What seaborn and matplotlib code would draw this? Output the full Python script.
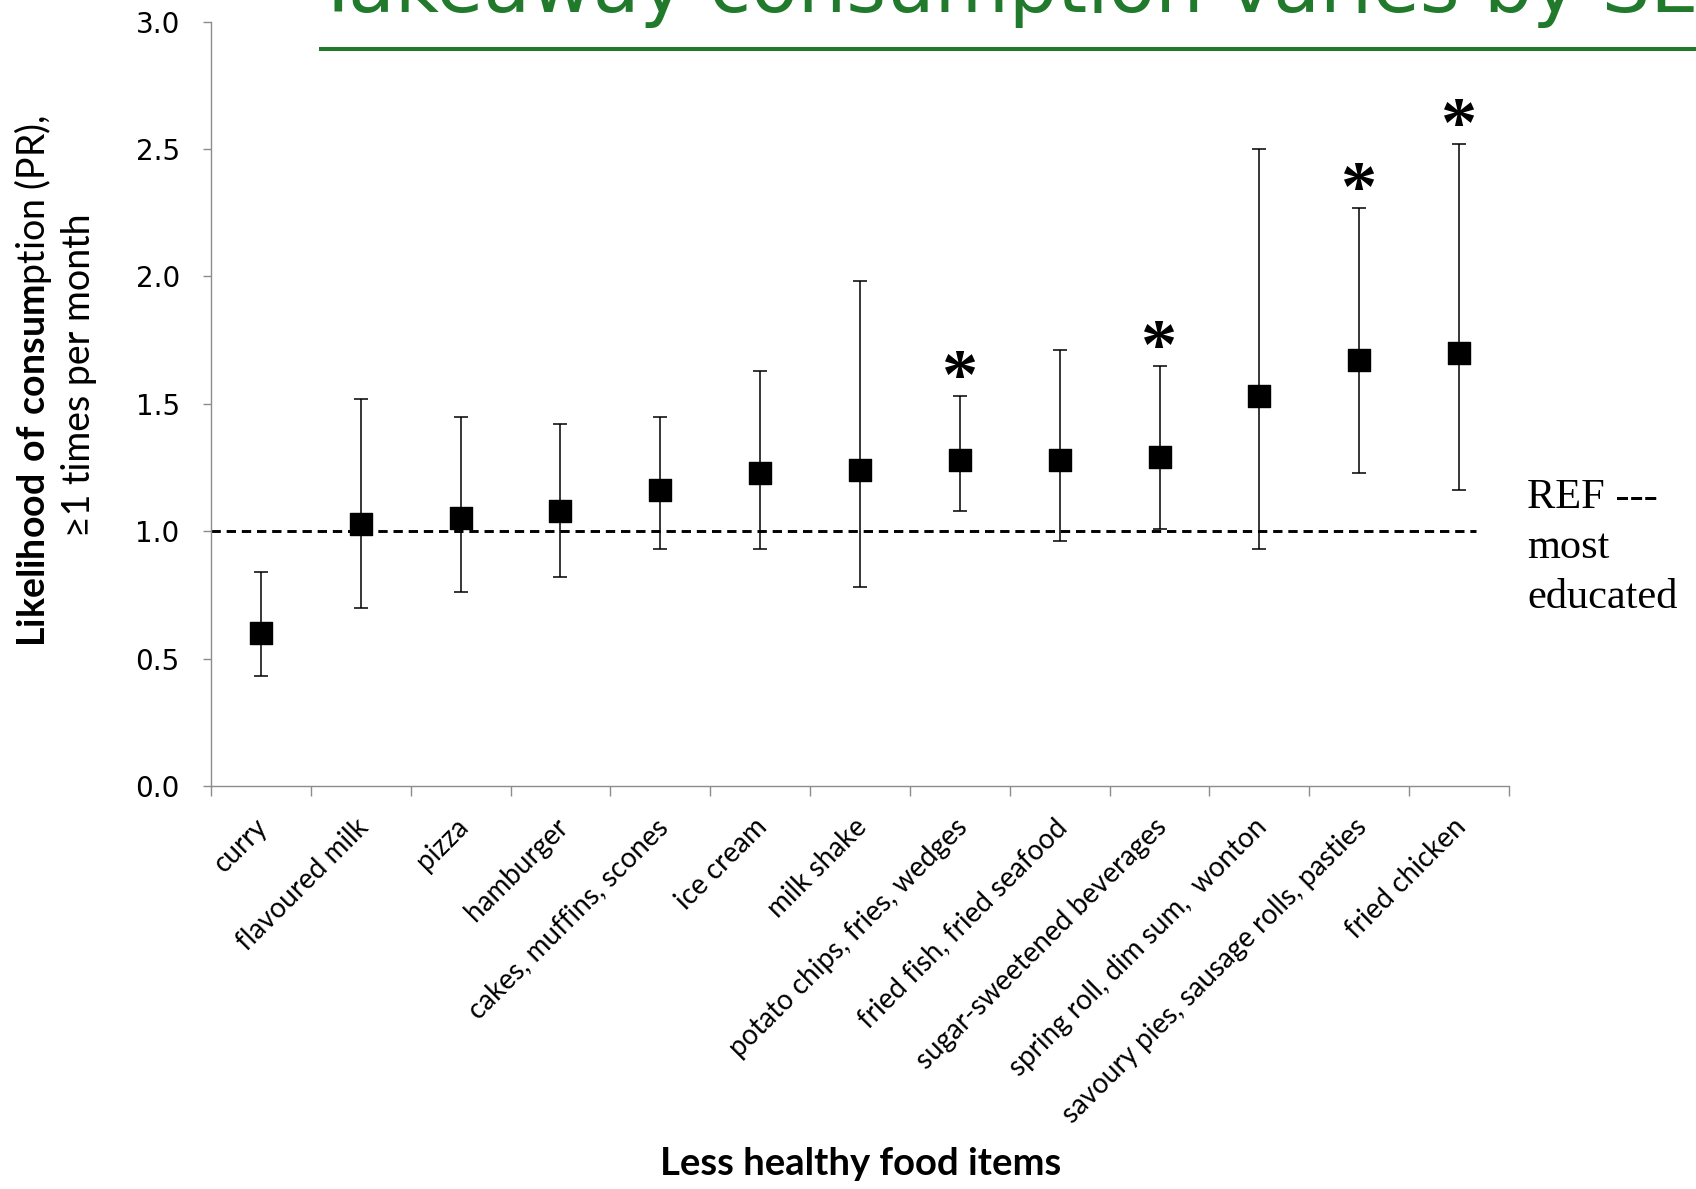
import numpy as np
import pandas as pd
import matplotlib
matplotlib.use("Agg")
import matplotlib.pyplot as plt
import seaborn as sns
from matplotlib.lines import Line2D
from matplotlib.transforms import ScaledTranslation

# Prevalence ratios (PR) of takeaway consumption, least vs most educated
items = [
    "curry", "flavoured milk", "pizza", "hamburger", "cakes, muffins, scones",
    "ice cream", "milk shake", "potato chips, fries, wedges",
    "fried fish, fried seafood", "sugar-sweetened beverages",
    "spring roll, dim sum,  wonton", "savoury pies, sausage rolls, pasties",
    "fried chicken",
]
pr = [0.60, 1.03, 1.05, 1.08, 1.16, 1.23, 1.24, 1.28, 1.28, 1.29, 1.53, 1.67, 1.70]
ci_low = [0.43, 0.70, 0.76, 0.82, 0.93, 0.93, 0.78, 1.08, 0.96, 1.01, 0.93, 1.23, 1.16]
ci_high = [0.84, 1.52, 1.45, 1.42, 1.45, 1.63, 1.98, 1.53, 1.71, 1.65, 2.50, 2.27, 2.52]
significant = [False, False, False, False, False, False, False,
               True, False, True, False, True, True]
y_ticks = [0.0, 0.5, 1.0, 1.5, 2.0, 2.5, 3.0]
REF_VALUE = 1.0

df = pd.DataFrame({"item": items, "pr": pr, "lo": ci_low, "hi": ci_high, "sig": significant})

sns.set_theme(style="ticks")
plt.rcParams["font.family"] = ["Lato", "DejaVu Sans"]
plt.rcParams["mathtext.fontset"] = "custom"
plt.rcParams["mathtext.rm"] = "Lato"
plt.rcParams["mathtext.bf"] = "Lato:bold"

W, H = 1696, 1189
fig = plt.figure(figsize=(W / 100, H / 100), dpi=100)
fig.patch.set_facecolor("white")

ax_left, ax_right, ax_top, ax_bottom = 211, 1509, 21.6, 786
ax = fig.add_axes([ax_left / W, 1 - ax_bottom / H,
                   (ax_right - ax_left) / W, (ax_bottom - ax_top) / H])
ax.set_facecolor("white")

xpos = np.arange(len(df))

# reference line (most educated group)
ax.plot([-0.5, 12.17], [REF_VALUE, REF_VALUE], color="black", lw=2.1,
        dashes=(3.2, 2.0), zorder=2)

# confidence intervals
ax.errorbar(xpos, df["pr"], yerr=[df["pr"] - df["lo"], df["hi"] - df["pr"]],
            fmt="none", ecolor="black", elinewidth=1.1, capsize=5, capthick=1.1,
            zorder=3)

# point estimates
sns.scatterplot(data=df, x="item", y="pr", marker="s", s=16 ** 2, color="black",
                edgecolor="black", linewidth=1, zorder=4, legend=False, ax=ax)

# significance markers
for i, row in df.iterrows():
    if row["sig"]:
        ax.annotate("*", xy=(i, row["hi"]), xytext=(0, 11), textcoords="offset points",
                    ha="center", va="center", fontsize=52, fontweight="bold",
                    family="Liberation Serif", color="black", zorder=5)

ax.set_xlim(-0.5, len(df) - 0.5)
ax.set_ylim(0, 3.0)
ax.set_xlabel("")
ax.set_ylabel("")

grey = "#8C8C8C"
for side in ("top", "right"):
    ax.spines[side].set_visible(False)
for side in ("left", "bottom"):
    ax.spines[side].set_color(grey)
    ax.spines[side].set_linewidth(1.0)

ax.set_yticks(y_ticks)
ax.set_yticklabels([f"{v:.1f}" for v in y_ticks])
ax.tick_params(axis="y", length=5.5, width=1, color=grey, pad=17, labelsize=20,
               labelcolor="black", labelfontfamily="DejaVu Sans")

ax.set_xticks(xpos)
ax.set_xticklabels(items, rotation=45, ha="right", rotation_mode="anchor",
                   fontsize=20, color="black")
ax.set_xticks(np.arange(-0.5, len(df), 1.0), minor=True)
ax.tick_params(axis="x", which="major", length=0, pad=20)
ax.tick_params(axis="x", which="minor", length=7, width=1, color=grey, direction="out")
shift = ScaledTranslation(-0.06, 0, fig.dpi_scale_trans)
for lbl in ax.get_xticklabels():
    lbl.set_transform(lbl.get_transform() + shift)

# axis titles
fig.text(861 / W, 1 - 1175 / H, "Less healthy food items", ha="center", va="baseline",
         fontsize=27.5, fontweight="bold", color="black")
fig.text(33.5 / W, 1 - 381 / H, r"$\mathbf{Likelihood\ of\ consum}$ption (PR),",
         rotation=90, ha="center", va="center", fontsize=27, color="black")
fig.text(79 / W, 1 - 375 / H, "\u22651 times per month", rotation=90,
         ha="center", va="center", fontsize=27, color="black")

# reference group note
for k, line in enumerate(["REF ---", "most", "educated"]):
    fig.text(1527 / W, 1 - (508 + 50 * k) / H, line, ha="left", va="baseline",
             fontsize=30.5, family="Liberation Serif", color="black")

# slide heading with rule
green = "#217A2C"
fig.text(314 / W, 1 - 11.7 / H, "Takeaway consumption varies by SES", ha="left",
         va="baseline", fontsize=55, family="DejaVu Sans", color=green)
fig.add_artist(Line2D([319 / W, 1.0], [1 - 48.7 / H, 1 - 48.7 / H], color=green,
                      lw=2.9, solid_capstyle="butt"))

fig.savefig("out.png", dpi=100, facecolor="white")
